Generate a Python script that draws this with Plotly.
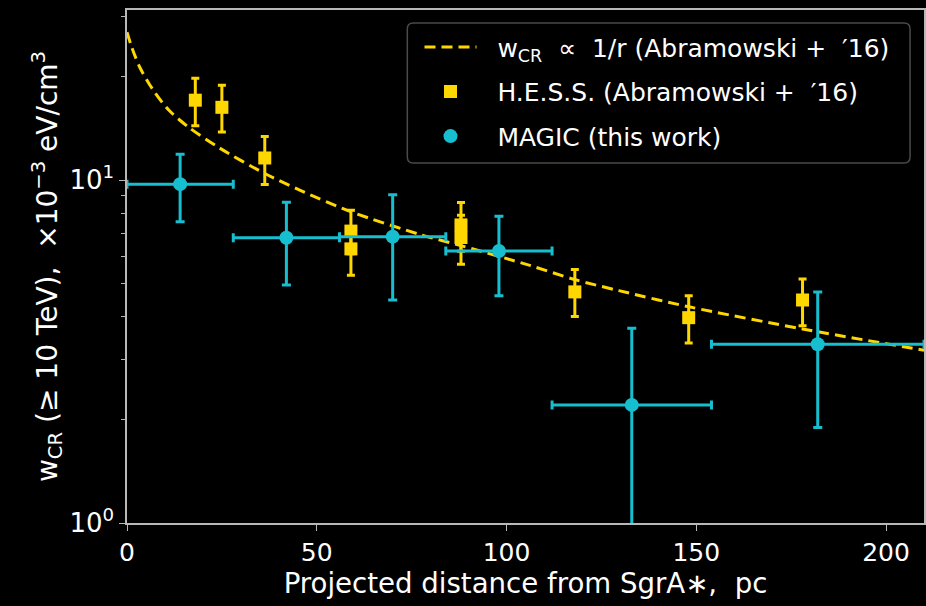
import plotly.graph_objects as go

# H.E.S.S. cosmic-ray energy density profile (Abramowski et al. 2016)
hess_r = [18, 25, 36.3, 59, 59, 88, 88, 118, 148, 178]
hess_w = [17.1, 16.3, 11.6, 7.1, 6.3, 7.4, 6.8, 4.72, 3.97, 4.47]
hess_err_hi = [2.7, 2.6, 1.8, 1.07, 1.0, 1.2, 1.1, 0.77, 0.63, 0.68]
hess_err_lo = [2.7, 2.5, 1.9, 1.0, 1.02, 1.2, 1.12, 0.72, 0.62, 0.71]

# MAGIC measurement (this work)
magic_r = [14, 42, 70, 98, 133, 182]
magic_r_err = [14, 14, 14, 14, 21, 28]
magic_w = [9.73, 6.79, 6.84, 6.21, 2.21, 3.32]
magic_err_hi = [2.17, 1.82, 2.22, 1.64, 1.49, 1.40]
magic_err_lo = [2.17, 1.85, 2.37, 1.61, 1.6, 1.42]

# Projected 1/r profile, sampled along the distance axis
model_r = [0, 1.2, 3.4, 6.9, 11, 16.1, 24.4, 36.3, 45.5, 59.5, 77, 88.4,
           105.9, 118.2, 129.6, 148.1, 178, 210]
model_w = [27.0, 24.5, 21.3, 18.3, 16.0, 14.3, 12.4, 10.45, 9.35, 8.05, 6.95,
           6.42, 5.65, 5.12, 4.76, 4.27, 3.68, 3.19]

y_tickvals = [1, 10]
y_ticktext = ["10<sup>0</sup>", "10<sup>1</sup>"]
x_tickvals = [0, 50, 100, 150, 200]

GOLD = "#FFD700"
CYAN = "#17becf"
AXIS = "#b8b8b8"
FONT = "DejaVu Sans"
NB = "\u00a0"
LEAD = NB * 2  # gap between legend glyph and label

fig = go.Figure()

fig.add_trace(go.Scatter(
    x=model_r, y=model_w, mode="lines",
    line=dict(color=GOLD, width=3, dash="11px,6px", shape="spline", smoothing=0.8),
    name=f"{LEAD}w<sub>CR</sub>{NB}{NB}\u221d{NB}{NB}1/r (Abramowski{NB}+{NB}{NB}\u203216)",
    legendgroup="a",
))

fig.add_trace(go.Scatter(
    x=hess_r, y=hess_w, mode="markers",
    marker=dict(symbol="square", size=13, color=GOLD),
    error_y=dict(type="data", array=hess_err_hi, arrayminus=hess_err_lo,
                 color=GOLD, thickness=3, width=4),
    name=f"{LEAD}H.E.S.S. (Abramowski{NB}+{NB}{NB}\u203216)",
    legendgroup="b",
))

fig.add_trace(go.Scatter(
    x=magic_r, y=magic_w, mode="markers",
    marker=dict(symbol="circle", size=14, color=CYAN),
    error_x=dict(type="data", array=magic_r_err, color=CYAN, thickness=3, width=4.5),
    error_y=dict(type="data", array=magic_err_hi, arrayminus=magic_err_lo,
                 color=CYAN, thickness=3, width=4.5),
    name=f"{LEAD}MAGIC (this work)",
    legendgroup="c",
))

# rounded frame behind the legend entries
x0, x1, y0, y1 = 0.3517, 0.9825, 0.7018, 0.9747
rx, ry = 0.0075, 0.0117
legend_frame = (
    f"M{x0+rx},{y1} L{x1-rx},{y1} Q{x1},{y1} {x1},{y1-ry} "
    f"L{x1},{y0+ry} Q{x1},{y0} {x1-rx},{y0} "
    f"L{x0+rx},{y0} Q{x0},{y0} {x0},{y0+ry} "
    f"L{x0},{y1-ry} Q{x0},{y1} {x0+rx},{y1} Z"
)

fig.update_layout(
    width=926, height=606,
    paper_bgcolor="black", plot_bgcolor="black",
    margin=dict(l=127, r=0, t=10, b=83),
    font=dict(family=FONT, color="white", size=24),
    showlegend=True,
    legend=dict(
        x=0.367, y=0.972, xanchor="left", yanchor="top",
        bgcolor="rgba(0,0,0,0)", borderwidth=0,
        font=dict(size=25, color="white"),
        traceorder="grouped", tracegroupgap=9, itemwidth=52,
    ),
    shapes=[dict(type="path", xref="paper", yref="paper", path=legend_frame,
                 line=dict(color="#4a4a4a", width=1.5), fillcolor="black",
                 layer="above")],
)

fig.update_xaxes(
    range=[0, 210], tickvals=x_tickvals,
    showline=True, linecolor=AXIS, linewidth=1.5, mirror=True,
    ticks="outside", ticklen=6, tickcolor=AXIS, tickwidth=1.2,
    showgrid=False, zeroline=False,
    tickfont=dict(size=25),
    title=dict(text="Projected distance from SgrA\u2217,  pc", font=dict(size=27.6), standoff=2),
)

fig.update_yaxes(
    type="log", range=[0, 1.496], tickvals=y_tickvals, ticktext=y_ticktext,
    showline=True, linecolor=AXIS, linewidth=1.5, mirror=True,
    ticks="outside", ticklen=6, tickcolor=AXIS, tickwidth=1.2,
    minor=dict(ticks="outside", ticklen=4, tickcolor=AXIS, dtick="D1"),
    showgrid=False, zeroline=False,
    tickfont=dict(size=26),
    title=dict(text="w<sub>CR</sub> (\u2265 10 TeV),  \u00d710<sup>\u22123</sup> eV/cm<sup>3</sup>",
               font=dict(size=28), standoff=4),
)

fig.write_html("out.html")
